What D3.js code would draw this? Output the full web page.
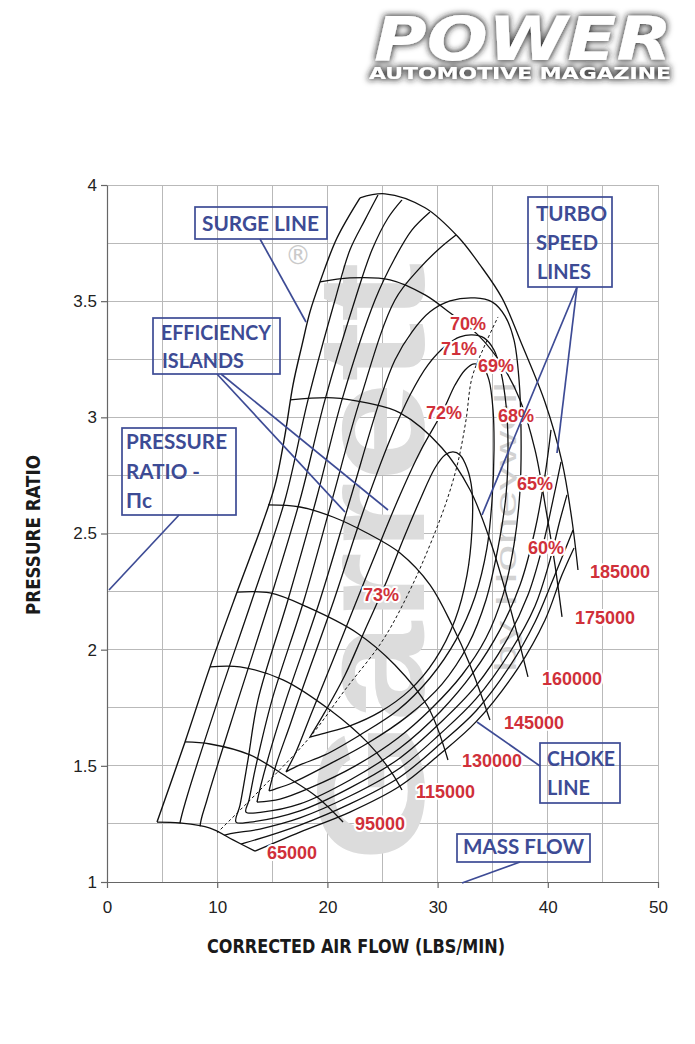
<!DOCTYPE html>
<html>
<head>
<meta charset="utf-8">
<script src="https://cdnjs.cloudflare.com/ajax/libs/d3/7.8.5/d3.min.js"></script>
<style>
html,body{margin:0;padding:0;background:#fff;overflow:hidden}
svg{display:block}
</style>
</head>
<body>
<svg id="chart" width="695" height="1044"></svg>
<script>
// ---------------- DATA ----------------
const xTicks = [0, 10, 20, 30, 40, 50];
const yTicks = [1, 1.5, 2, 2.5, 3, 3.5, 4];
const xGrid = [0, 5, 10, 15, 20, 25, 30, 35, 40, 45, 50];
const yGrid = [1, 1.25, 1.5, 1.75, 2, 2.25, 2.5, 2.75, 3, 3.25, 3.5, 3.75, 4];

// surge line (corrected air flow lbs/min, pressure ratio)
const surgeLine = [[4.54,1.258],[7.08,1.603],[9.35,1.926],[11.80,2.248],[14.06,2.537],[15.25,2.709],[16.15,2.924],[16.88,3.140],[17.70,3.312],[18.42,3.454],[19.33,3.583],[20.87,3.772],[22.96,3.945]];

// turbo speed lines
const speedNames = ["65000","95000","115000","130000","145000","160000","175000","185000"];
const speed65000  = [[4.54,1.258],[6.62,1.254],[9.35,1.232],[11.44,1.181],[13.43,1.133]];
const speed95000  = [[7.08,1.603],[9.35,1.594],[12.98,1.547],[16.33,1.452],[19.06,1.366],[21.42,1.258]];
const speed115000 = [[9.35,1.926],[12.07,1.926],[15.97,1.870],[20.24,1.740],[23.59,1.603],[25.68,1.482],[26.77,1.396]];
const speed130000 = [[11.80,2.248],[14.79,2.244],[18.15,2.184],[22.69,2.072],[26.13,1.934],[29.13,1.753],[30.94,1.525]];
const speed145000 = [[14.61,2.623],[17.51,2.614],[20.51,2.571],[23.59,2.502],[26.59,2.416],[29.31,2.279],[31.31,2.106],[32.94,1.934],[34.75,1.697]];
const speed160000 = [[16.61,3.075],[20.51,3.084],[23.59,3.062],[26.59,3.019],[30.40,2.868],[32.94,2.688],[34.75,2.472],[36.39,2.214],[38.20,1.883]];
const speed175000 = [[19.33,3.583],[22.05,3.600],[25.68,3.592],[28.86,3.527],[31.12,3.450],[33.66,3.355],[35.84,3.226],[37.48,3.075],[38.84,2.860],[39.84,2.601],[40.65,2.365],[41.29,2.141]];
const speed185000 = [[22.96,3.945],[25.23,3.962],[28.86,3.902],[31.85,3.777],[33.85,3.656],[35.84,3.514],[37.66,3.312],[39.74,3.066],[41.29,2.808],[42.19,2.558],[42.74,2.343]];
const speedLines = [speed65000, speed95000, speed115000, speed130000, speed145000, speed160000, speed175000, speed185000];
const speedLabelAt = [[14.52,1.099],[22.50,1.224],[28.04,1.362],[32.21,1.495],[36.02,1.659],[39.47,1.848],[42.47,2.111],[43.83,2.309]];

// choke line
const chokeLine = [[13.43,1.133],[17.51,1.215],[22.05,1.301],[26.59,1.413],[30.22,1.551],[33.48,1.689],[37.30,1.921],[39.75,2.128],[41.29,2.322],[42.38,2.438]];

// efficiency islands (contours)
const effNames = ["60%","65%","68%","69%","70%","71%","72%","73%"];
const eff60 = [[24.59,3.957],[23.41,3.850],[22.05,3.721],[20.69,3.505],[18.24,3.075],[16.15,2.644],[13.16,2.214],[10.07,1.783],[7.17,1.353],[6.62,1.254],[6.26,1.138],[9.35,1.129],[12.52,1.168],[17.51,1.245],[22.05,1.336],[26.59,1.452],[30.22,1.594],[33.48,1.736],[36.57,1.930],[38.84,2.119],[40.38,2.291],[41.56,2.429],[42.29,2.515]];
const eff65 = [[26.77,3.936],[25.50,3.858],[24.05,3.721],[22.50,3.505],[19.78,3.075],[17.51,2.644],[14.79,2.214],[11.89,1.783],[9.07,1.353],[8.44,1.237],[8.71,1.146],[10.44,1.198],[13.88,1.228],[17.51,1.276],[22.05,1.370],[26.59,1.491],[30.22,1.637],[33.48,1.788],[36.57,1.990],[38.84,2.188],[40.20,2.386],[41.11,2.558],[41.74,2.666]];
const eff68 = [[29.31,3.884],[27.68,3.807],[26.13,3.686],[24.32,3.505],[21.32,3.075],[18.97,2.644],[16.42,2.214],[13.70,1.783],[12.79,1.525],[12.07,1.331],[11.71,1.258],[12.98,1.258],[17.51,1.306],[22.05,1.405],[26.59,1.534],[30.22,1.684],[33.48,1.844],[36.12,2.029],[38.20,2.235],[39.56,2.451],[40.47,2.644],[41.20,2.808]];
const eff69 = [[31.67,3.785],[30.22,3.729],[28.40,3.643],[26.13,3.505],[22.96,3.075],[20.42,2.644],[17.88,2.214],[14.97,1.783],[13.43,1.482],[12.89,1.353],[12.61,1.301],[14.07,1.301],[17.51,1.336],[22.05,1.439],[26.59,1.577],[30.22,1.732],[33.21,1.900],[35.66,2.085],[37.48,2.278],[38.84,2.515],[39.75,2.752],[40.29,2.946]];
const eff70 = [[13.61,1.344],[13.97,1.418],[14.97,1.590],[16.24,1.783],[19.33,2.214],[22.05,2.644],[24.77,3.075],[26.13,3.247],[27.68,3.368],[29.31,3.454],[31.13,3.501],[33.39,3.514],[34.94,3.497],[36.12,3.436],[36.93,3.333],[37.39,3.161],[37.57,2.946],[37.48,2.687],[36.93,2.451],[35.93,2.235],[34.39,2.050],[32.21,1.891],[29.49,1.749],[26.41,1.620],[22.50,1.499],[18.42,1.405],[15.70,1.357],[13.61,1.344]];
const eff71 = [[14.70,1.392],[15.34,1.504],[16.61,1.676],[17.70,1.827],[20.60,2.214],[23.14,2.580],[25.68,2.903],[27.50,3.096],[29.13,3.226],[30.85,3.312],[32.03,3.346],[33.12,3.355],[34.21,3.342],[35.12,3.290],[35.75,3.195],[36.21,3.053],[36.39,2.881],[36.21,2.666],[35.48,2.438],[34.39,2.214],[32.76,2.020],[30.40,1.852],[27.31,1.715],[23.68,1.598],[20.05,1.504],[16.79,1.426],[15.25,1.400],[14.70,1.392]];
const eff72 = [[16.24,1.474],[17.15,1.560],[18.60,1.732],[20.51,1.956],[22.50,2.192],[24.59,2.438],[26.59,2.666],[28.40,2.851],[30.49,3.028],[31.58,3.139],[32.49,3.204],[33.30,3.230],[34.12,3.217],[34.66,3.161],[35.03,3.032],[35.12,2.860],[34.94,2.644],[34.48,2.438],[33.39,2.227],[31.67,2.042],[29.31,1.878],[26.41,1.740],[22.96,1.633],[19.78,1.547],[17.51,1.504],[16.24,1.474]];
const eff73 = [[18.42,1.624],[19.78,1.732],[21.60,1.891],[23.41,2.085],[25.23,2.278],[26.86,2.472],[28.40,2.644],[29.76,2.782],[30.67,2.838],[31.40,2.851],[32.03,2.838],[32.67,2.782],[33.12,2.687],[33.12,2.515],[32.67,2.322],[31.58,2.128],[29.76,1.956],[27.50,1.827],[24.77,1.732],[22.05,1.672],[19.78,1.641],[18.42,1.624]];
const effContours = [eff60, eff65, eff68, eff69, eff70, eff71, eff72, eff73];
const effLabelAt = [[38.20,2.412],[37.20,2.687],[35.48,2.980],[33.67,3.195],[31.13,3.376],[30.31,3.269],[28.95,2.993],[23.23,2.210]];

// line of peak efficiency (dashed)
const maxEffLine = [[9.98,1.211],[14.34,1.418],[18.42,1.624],[21.60,1.827],[25.05,2.042],[27.50,2.257],[29.31,2.451],[30.85,2.644],[31.85,2.808],[32.58,2.989],[33.12,3.170],[34.30,3.312],[35.48,3.432]];

// ---------------- LAYOUT ----------------
const W = 695, H = 1044;
const x = d3.scaleLinear().domain([0, 50]).range([107, 658]);
const y = d3.scaleLinear().domain([1, 4]).range([882, 185]);

const RED = "#d0303a", BLUE = "#3d4b95", GRID = "#b9b9b9";

const svg = d3.select("#chart");
svg.append("rect").attr("width", W).attr("height", H).attr("fill", "#fff");
const defs = svg.append("defs");

// glow filter for logo
const f = defs.append("filter").attr("id", "glow").attr("x", "-15%").attr("y", "-60%").attr("width", "130%").attr("height", "220%");
f.append("feMorphology").attr("in", "SourceAlpha").attr("operator", "dilate").attr("radius", 1.2).attr("result", "dil");
f.append("feGaussianBlur").attr("in", "dil").attr("stdDeviation", 3.2).attr("result", "blur");
f.append("feFlood").attr("flood-color", "#1e1e1e").attr("flood-opacity", 0.9).attr("result", "col");
f.append("feComposite").attr("in", "col").attr("in2", "blur").attr("operator", "in").attr("result", "sh");
const fm = f.append("feMerge");
fm.append("feMergeNode").attr("in", "sh");
fm.append("feMergeNode").attr("in", "SourceGraphic");

// logo
const logo = svg.append("g").attr("filter", "url(#glow)");
logo.append("text").attr("x", 374).attr("y", 60)
  .attr("font-family", "DejaVu Sans").attr("font-weight", "bold").attr("font-style", "italic")
  .attr("font-size", 60).attr("fill", "#fff")
  .attr("textLength", 298).attr("lengthAdjust", "spacingAndGlyphs").text("POWER");
logo.append("text").attr("x", 369).attr("y", 79)
  .attr("font-family", "DejaVu Sans").attr("font-weight", "bold")
  .attr("font-size", 16).attr("fill", "#fff")
  .attr("textLength", 302).attr("lengthAdjust", "spacingAndGlyphs").text("AUTOMOTIVE MAGAZINE");

// grid
const grid = svg.append("g").attr("stroke", GRID).attr("stroke-width", 1).attr("shape-rendering", "crispEdges");
grid.selectAll("line.v").data(xGrid).join("line").attr("class", "v")
  .attr("x1", d => x(d)).attr("x2", d => x(d)).attr("y1", y(1)).attr("y2", y(4));
grid.selectAll("line.h").data(yGrid).join("line").attr("class", "h")
  .attr("x1", x(0)).attr("x2", x(50)).attr("y1", d => y(d)).attr("y2", d => y(d));

// axes
const xAxis = svg.append("g").attr("transform", `translate(0,${y(1)})`)
  .call(d3.axisBottom(x).tickValues(xTicks).tickSize(6).tickSizeOuter(0).tickPadding(13).tickFormat(d3.format("d")));
const yAxis = svg.append("g").attr("transform", `translate(${x(0)},0)`)
  .call(d3.axisLeft(y).tickValues(yTicks).tickSize(6).tickSizeOuter(0).tickPadding(4).tickFormat(d => String(d)));
[xAxis, yAxis].forEach(a => {
  a.select(".domain").attr("stroke", "#666").attr("stroke-width", 1.2);
  a.selectAll(".tick line").attr("stroke", "#666").attr("stroke-width", 1.2);
  a.selectAll(".tick text").attr("font-family", "Liberation Sans, Arial, sans-serif").attr("font-size", 17).attr("fill", "#222");
});

// axis titles
svg.append("text").attr("x", 356).attr("y", 953).attr("text-anchor", "middle")
  .attr("font-family", "DejaVu Sans Condensed, DejaVu Sans").attr("font-weight", "bold").attr("font-size", 20).attr("fill", "#1a1a1a")
  .attr("textLength", 298).attr("lengthAdjust", "spacingAndGlyphs").text("CORRECTED AIR FLOW (LBS/MIN)");
svg.append("text").attr("transform", "translate(40,535) rotate(-90)").attr("text-anchor", "middle")
  .attr("font-family", "DejaVu Sans Condensed, DejaVu Sans").attr("font-weight", "bold").attr("font-size", 20).attr("fill", "#1a1a1a")
  .attr("textLength", 160).attr("lengthAdjust", "spacingAndGlyphs").text("PRESSURE RATIO");

// watermark
const wm = svg.append("g");
wm.append("text").attr("transform", "translate(424,862) rotate(-90)")
  .attr("font-family", "Liberation Sans, Arial").attr("font-weight", "bold").attr("font-size", 152)
  .attr("fill", "#dcdcdc").attr("textLength", 600).attr("lengthAdjust", "spacingAndGlyphs").text("Garrett");
wm.append("text").attr("transform", "translate(516,672) rotate(-90)")
  .attr("font-family", "Liberation Sans, Arial").attr("font-size", 30)
  .attr("fill", "#d2d2d2").attr("textLength", 290).attr("lengthAdjust", "spacingAndGlyphs").text("by Honeywell");
wm.append("text").attr("x", 298).attr("y", 264).attr("text-anchor", "middle")
  .attr("font-family", "DejaVu Sans").attr("font-size", 26).attr("fill", "#cacaca").text("®");

// clip region = compressor map boundary
const boundary = surgeLine.concat(speed185000.slice(1), [[50, 2.343], [50, 0.9], [13.43, 0.9]], speed65000.slice().reverse());
const linLine = d3.line().x(d => x(d[0])).y(d => y(d[1]));
defs.append("clipPath").attr("id", "mapclip").append("path").attr("d", linLine(boundary) + "Z");

const curve = d3.line().x(d => x(d[0])).y(d => y(d[1])).curve(d3.curveCatmullRom.alpha(0.5));

// efficiency islands
svg.append("g").attr("clip-path", "url(#mapclip)")
  .selectAll("path").data(effContours).join("path")
  .attr("d", curve).attr("fill", "none").attr("stroke", "#111").attr("stroke-width", 1.3);

// dashed peak efficiency line
svg.append("path").attr("d", curve(maxEffLine)).attr("fill", "none")
  .attr("stroke", "#111").attr("stroke-width", 1).attr("stroke-dasharray", "3,2.5");

// speed lines, surge, choke
svg.append("g").selectAll("path").data(speedLines).join("path")
  .attr("d", curve).attr("fill", "none").attr("stroke", "#111").attr("stroke-width", 1.3);
svg.append("path").attr("d", curve(surgeLine)).attr("fill", "none").attr("stroke", "#111").attr("stroke-width", 1.4);
svg.append("path").attr("d", curve(chokeLine)).attr("fill", "none").attr("stroke", "#111").attr("stroke-width", 1.3);

// red labels
const redText = (txt, pos) => svg.append("text").attr("x", x(pos[0])).attr("y", y(pos[1]))
  .attr("font-family", "Liberation Sans, Arial, sans-serif").attr("font-weight", "bold").attr("font-size", 18)
  .attr("fill", RED).attr("stroke", "#fff").attr("stroke-width", 4).attr("stroke-linejoin", "round")
  .attr("paint-order", "stroke").text(txt);
speedNames.forEach((s, i) => redText(s, speedLabelAt[i]));
effNames.forEach((s, i) => redText(s, effLabelAt[i]));

// annotations (blue callouts)
const notes = [
  {box: [195, 207, 132, 32], lines: [["SURGE LINE", 202, 231, 117]], ptr: [[260, 239, 306, 322]]},
  {box: [153, 318, 127, 56], lines: [["EFFICIENCY", 161, 340, 110], ["ISLANDS", 162, 368, 82]], ptr: [[217, 374, 345, 512], [221, 374, 388, 510]]},
  {box: [122, 428, 114, 87], lines: [["PRESSURE", 126, 449, 101], ["RATIO -", 126, 479, 74], ["Πc", 126, 508, 26]], ptr: [[179, 515, 109, 590]]},
  {box: [528, 197, 84, 90], lines: [["TURBO", 536, 221, 71], ["SPEED", 536, 250, 62], ["LINES", 537, 279, 54]], ptr: [[577, 287, 482, 515], [577, 287, 557, 453]]},
  {box: [540, 743, 80, 60], lines: [["CHOKE", 547, 766, 68], ["LINE", 547, 795, 43]], ptr: [[540, 766, 477, 722]]},
  {box: [457, 834, 133, 28], lines: [["MASS FLOW", 463, 854, 121]], ptr: [[520, 862, 462, 883]]}
];
const ann = svg.append("g");
notes.forEach(n => {
  ann.append("rect").attr("x", n.box[0]).attr("y", n.box[1]).attr("width", n.box[2]).attr("height", n.box[3])
    .attr("fill", "none").attr("stroke", BLUE).attr("stroke-width", 1.7);
  n.ptr.forEach(p => ann.append("line").attr("x1", p[0]).attr("y1", p[1]).attr("x2", p[2]).attr("y2", p[3])
    .attr("stroke", BLUE).attr("stroke-width", 1.7));
  n.lines.forEach(l => ann.append("text").attr("x", l[1]).attr("y", l[2])
    .attr("font-family", "Lato, Open Sans, sans-serif").attr("font-weight", "bold").attr("font-size", 20)
    .attr("fill", BLUE).attr("textLength", l[3]).attr("lengthAdjust", "spacingAndGlyphs").text(l[0]));
});
</script>
</body>
</html>
